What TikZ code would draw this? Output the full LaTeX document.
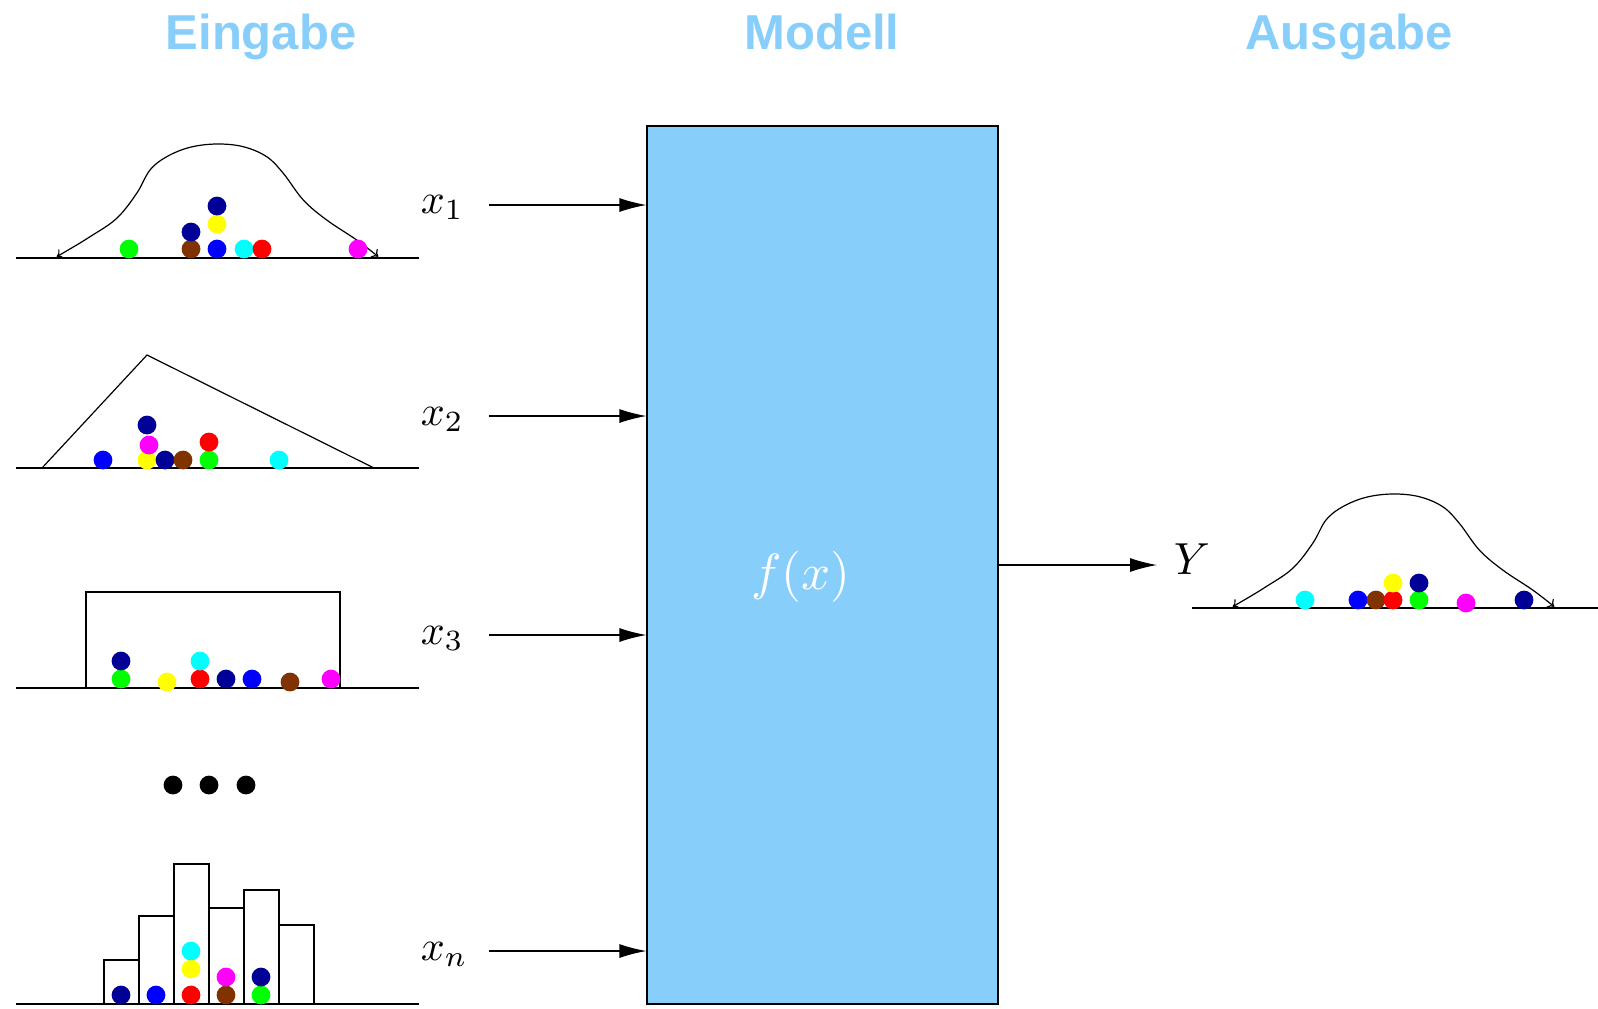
\documentclass[tikz,border=0pt]{standalone}
\usepackage{fontspec}
\setsansfont{Liberation Sans}
\usetikzlibrary{arrows.meta}
\definecolor{skyb}{RGB}{135,206,250}
\definecolor{navyb}{RGB}{0,0,150}
\definecolor{brownb}{RGB}{128,51,0}
\definecolor{greenb}{RGB}{0,255,0}
\definecolor{blueb}{RGB}{0,0,255}
\definecolor{yellowb}{RGB}{255,255,0}
\definecolor{cyanb}{RGB}{0,255,255}
\definecolor{redb}{RGB}{255,0,0}
\definecolor{magb}{RGB}{255,0,255}
\newcommand{\myball}[3]{\fill[#1] (#2,#3) circle[radius=4.7pt];}
\newcommand{\mybell}{%
  \draw[curve,{To[length=3pt,width=5.5pt]}-{To[length=3pt,width=5.5pt]}] plot[smooth,tension=0.6] coordinates
   {(56.7,256.7) (90,236.7) (116.7,218.3) (136.7,193.3) (150,170) (166.7,156.7) (190,147.3) (216.7,144)
    (243.3,146.7) (266.7,156.7) (283.3,173.3) (303.3,200) (326.7,220) (356.7,240) (378.3,256.7)};}
\begin{document}
\begin{tikzpicture}[x=0.5pt,y=-0.5pt,
  axis/.style={line width=0.7pt},
  curve/.style={line width=0.6pt},
  shapeln/.style={line width=0.6pt},
  title/.style={text=skyb,font=\fontsize{24.5}{29}\selectfont\sffamily\bfseries,anchor=base,inner sep=0pt},
  mlabel/.style={font=\fontsize{10}{12}\selectfont,scale=2.1,anchor=base west,inner sep=0pt},
  modelbox/.style={draw=black,line width=0.6pt,fill=skyb,minimum width=175.5pt,minimum height=439pt,inner sep=0pt},
  conn/.style={line width=0.6pt,-{Latex[length=13.5pt,width=7pt]}}]
\useasboundingbox (0,0) rectangle (1598,1008);
% titles
\node[title] (t1) at (261,49) {Eingabe};
\node[title] (t2) at (822,49) {Modell};
\node[title] (t3) at (1349,49) {Ausgabe};
% model box
\node[modelbox] (model) at (822.5,565) {};
\node[text=white,font=\fontsize{10}{12}\selectfont,scale=2.55,anchor=base,inner sep=0pt] (fx) at (801,589) {$f(x)$};
% labels
\node[mlabel] (x1) at (420,213) {$x_1$};
\node[mlabel] (x2) at (420,425) {$x_2$};
\node[mlabel] (x3) at (420,644) {$x_3$};
\node[mlabel] (xn) at (420,960) {$x_n$};
\node[mlabel,scale=1.07] (Y) at (1173,574) {$Y$};
% connectors
\coordinate (a1) at (489,205);
\coordinate (a2) at (489,416);
\coordinate (a3) at (489,635);
\coordinate (an) at (489,951);
\coordinate (ay) at (1157,565);
\draw[conn] (a1) -- (model.west |- a1);
\draw[conn] (a2) -- (model.west |- a2);
\draw[conn] (a3) -- (model.west |- a3);
\draw[conn] (an) -- (model.west |- an);
\draw[conn] (model.east) -- (ay);
% row 1: bell
\draw[axis] (16,258) -- (419,258);
\mybell
\myball{greenb}{129}{249}
\myball{brownb}{191}{249}
\myball{navyb}{191}{232}
\myball{blueb}{217}{249}
\myball{yellowb}{217}{224}
\myball{navyb}{217}{206}
\myball{cyanb}{244}{249}
\myball{redb}{262}{249}
\myball{magb}{358}{249}
% row 2: triangle
\draw[axis] (16,468) -- (419,468);
\draw[shapeln,line join=miter] (42,468) -- (147,355) -- (374,468);
\myball{blueb}{103}{460}
\myball{yellowb}{147}{460}
\myball{navyb}{147}{425}
\myball{magb}{149}{445}
\myball{navyb}{165}{460}
\myball{brownb}{183}{460}
\myball{greenb}{209}{460}
\myball{redb}{209}{442}
\myball{cyanb}{279}{460}
% row 3: rectangle
\draw[axis] (16,688) -- (419,688);
\draw[shapeln] (86,688) -- (86,592) -- (340,592) -- (340,688);
\myball{greenb}{121}{679}
\myball{navyb}{121}{661}
\myball{yellowb}{167}{682}
\myball{redb}{200}{679}
\myball{cyanb}{200}{661}
\myball{navyb}{226}{679}
\myball{blueb}{252}{679}
\myball{brownb}{290}{682}
\myball{magb}{331}{679}
% dots
\fill (173,785) circle[radius=4.7pt];
\fill (209,785) circle[radius=4.7pt];
\fill (246,785) circle[radius=4.7pt];
% row 4: histogram
\draw[axis] (16,1004) -- (419,1004);
\draw[shapeln] (104,1004) rectangle (139,960);
\draw[shapeln] (139,1004) rectangle (174,916);
\draw[shapeln] (174,1004) rectangle (209,864);
\draw[shapeln] (209,1004) rectangle (244,908);
\draw[shapeln] (244,1004) rectangle (279,890);
\draw[shapeln] (279,1004) rectangle (314,925);
\myball{navyb}{121}{995}
\myball{blueb}{156}{995}
\myball{redb}{191}{995}
\myball{yellowb}{191}{969}
\myball{cyanb}{191}{951}
\myball{brownb}{226}{995}
\myball{magb}{226}{977}
\myball{greenb}{261}{995}
\myball{navyb}{261}{977}
% output
\draw[axis] (1192,608) -- (1598,608);
\begin{scope}[shift={(1176,350)}]
\mybell
\end{scope}
\myball{cyanb}{1305}{600}
\myball{blueb}{1358}{600}
\myball{brownb}{1376}{600}
\myball{redb}{1393}{600}
\myball{yellowb}{1393}{583}
\myball{greenb}{1419}{600}
\myball{navyb}{1419}{583}
\myball{magb}{1466}{603}
\myball{navyb}{1524}{600}
\end{tikzpicture}
\end{document}
